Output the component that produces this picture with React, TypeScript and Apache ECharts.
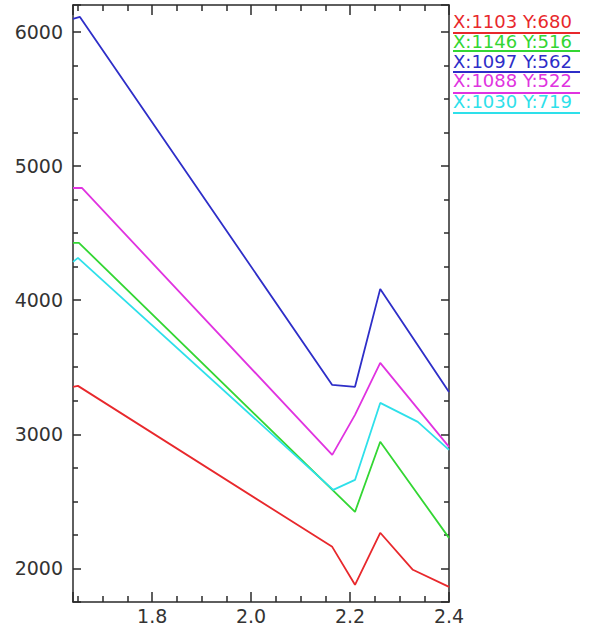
import React, { useEffect, useRef } from 'react';
import * as echarts from 'echarts';

const legendLabels = ['X:1103 Y:680', 'X:1146 Y:516', 'X:1097 Y:562', 'X:1088 Y:522', 'X:1030 Y:719'];
const seriesColors = ['#e8282c', '#33d633', '#2e2ec8', '#e033e0', '#2ee0ea'];

const redX = [1.64, 1.65, 2.164, 2.21, 2.261, 2.327, 2.4];
const redY = [3354, 3361, 2161, 1878, 2266, 1990, 1863];
const greenX = [1.64, 1.652, 2.21, 2.261, 2.4];
const greenY = [4427, 4427, 2422, 2944, 2228];
const blueX = [1.64, 1.654, 2.164, 2.21, 2.261, 2.4];
const blueY = [6096, 6111, 3368, 3354, 4084, 3316];
const magentaX = [1.64, 1.658, 2.164, 2.21, 2.261, 2.4];
const magentaY = [4836, 4836, 2847, 3145, 3532, 2906];
const cyanX = [1.64, 1.65, 2.166, 2.21, 2.261, 2.337, 2.4];
const cyanY = [4285, 4315, 2586, 2660, 3234, 3093, 2884];

const X_MIN = 1.64;
const X_MAX = 2.4;
const Y_MIN = 1750;
const Y_MAX = 6200;

const allX = [redX, greenX, blueX, magentaX, cyanX];
const allY = [redY, greenY, blueY, magentaY, cyanY];

const zip = (xs: number[], ys: number[]) => xs.map((x, i) => [x, ys[i]]);

export default function App() {
  const ref = useRef<HTMLDivElement>(null);
  useEffect(() => {
    if (!ref.current) return;
    const chart = echarts.init(ref.current, null, { renderer: 'svg' });
    const axisColor = '#2a2a2a';
    const font = 'DejaVu Sans';
    const xBase = (show: boolean, position: string) => ({
      type: 'value',
      min: X_MIN,
      max: X_MAX,
      position,
      axisLine: { show: true, onZero: false, lineStyle: { color: axisColor, width: 1.5 } },
      axisTick: { show: true, inside: true, length: 10, lineStyle: { color: axisColor, width: 1.5 } },
      minorTick: { show: true, splitNumber: 4, length: 6, lineStyle: { color: axisColor, width: 1.5 } },
      splitLine: { show: false },
      minorSplitLine: { show: false },
      axisLabel: {
        show,
        showMinLabel: false,
        margin: 4,
        color: '#333',
        fontFamily: font,
        fontSize: 19,
        formatter: (v: number) => v.toFixed(1),
      },
    });
    const yBase = (show: boolean, position: string) => ({
      type: 'value',
      min: Y_MIN,
      max: Y_MAX,
      position,
      axisLine: { show: true, onZero: false, lineStyle: { color: axisColor, width: 1.5 } },
      axisTick: { show: true, inside: true, length: 8, lineStyle: { color: axisColor, width: 1.5 } },
      minorTick: { show: true, splitNumber: 4, length: 5, lineStyle: { color: axisColor, width: 1.5 } },
      splitLine: { show: false },
      minorSplitLine: { show: false },
      axisLabel: {
        show,
        showMinLabel: false,
        showMaxLabel: false,
        margin: 10,
        color: '#333',
        fontFamily: font,
        fontSize: 19,
        formatter: (v: number) => String(Math.round(v)),
      },
    });

    const legendTop = [12, 32, 52, 71, 92];
    const lineTop = [33, 51, 72, 93, 113];
    const graphic: any[] = [];
    legendLabels.forEach((label, i) => {
      graphic.push({
        type: 'text',
        left: 453,
        top: legendTop[i],
        style: { text: label, fill: seriesColors[i], font: `18px ${font}` },
      });
      graphic.push({
        type: 'line',
        shape: { x1: 453, y1: lineTop[i], x2: 580, y2: lineTop[i] },
        style: { stroke: seriesColors[i], lineWidth: 2 },
      });
    });

    chart.setOption({
      animation: false,
      backgroundColor: '#fff',
      grid: { left: 73, right: 143, top: 5, bottom: 24 },
      xAxis: [xBase(true, 'bottom'), xBase(false, 'top')],
      yAxis: [yBase(true, 'left'), yBase(false, 'right')],
      series: allX.map((xs, i) => ({
        type: 'line',
        name: legendLabels[i],
        xAxisIndex: 0,
        yAxisIndex: 0,
        data: zip(xs, allY[i]),
        symbol: 'none',
        lineStyle: { color: seriesColors[i], width: 1.8 },
        itemStyle: { color: seriesColors[i] },
      })),
      graphic,
    });
    return () => chart.dispose();
  }, []);
  return <div ref={ref} style={{ position: 'absolute', left: 0, top: 0, width: 592, height: 626 }} />;
}
